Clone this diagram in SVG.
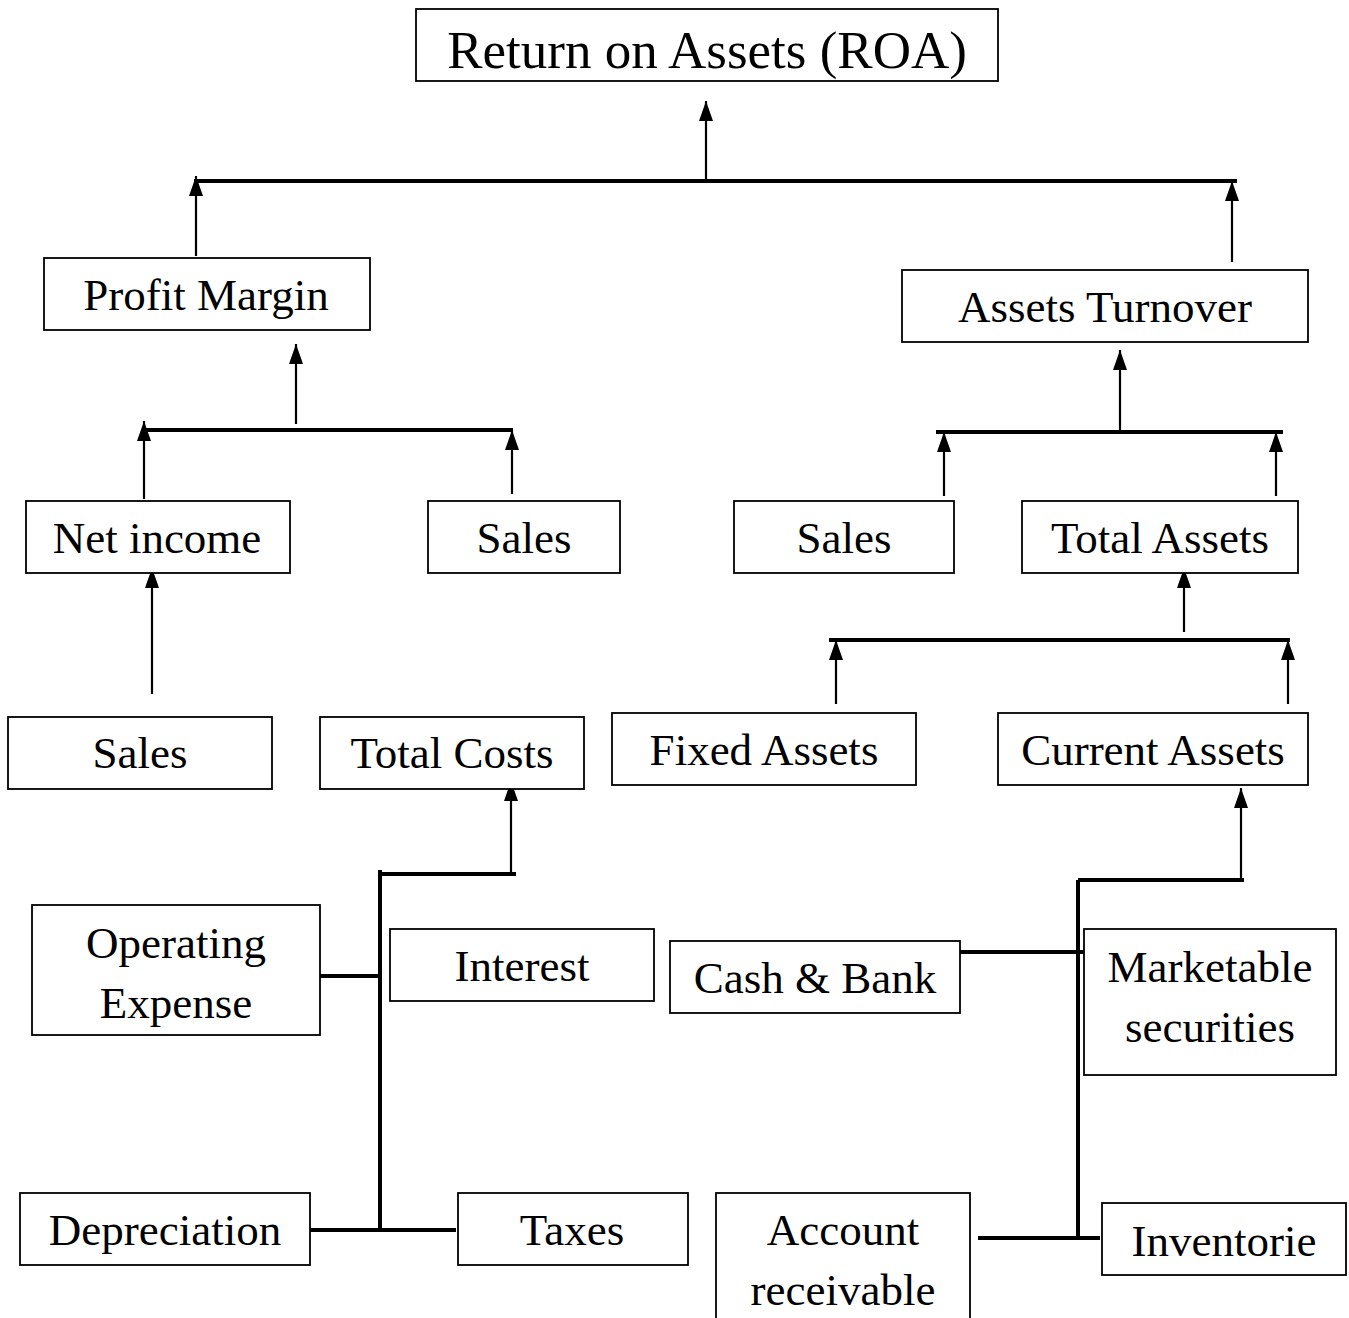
<svg xmlns="http://www.w3.org/2000/svg" width="1349" height="1318" viewBox="0 0 1349 1318">
<style>
.box{fill:#fff;stroke:#000;stroke-width:1.8}
.t{font-family:"Liberation Serif","Times New Roman",serif;font-size:45px;fill:#000;text-anchor:middle}
.big{font-size:53px}
.c{stroke:#000;stroke-width:2.2;fill:none}
.b{stroke:#000;stroke-width:4;fill:none}
</style>
<defs>
<marker id="ah" markerUnits="userSpaceOnUse" viewBox="0 0 20 14" markerWidth="20" markerHeight="14" refX="20" refY="7" orient="auto" overflow="visible">
<path d="M0,0 L20,7 L0,14 z" fill="#000"/>
</marker>
</defs>
<rect width="1349" height="1318" fill="#fff"/>
<g id="connectors">
<line class="c" x1="706" y1="181" x2="706" y2="101" marker-end="url(#ah)"/>
<line class="b" x1="194" y1="181" x2="1237" y2="181"/>
<line class="c" x1="196" y1="256" x2="196" y2="176" marker-end="url(#ah)"/>
<line class="c" x1="1232" y1="262" x2="1232" y2="181" marker-end="url(#ah)"/>

<line class="c" x1="296" y1="424" x2="296" y2="344" marker-end="url(#ah)"/>
<line class="b" x1="142" y1="430" x2="513" y2="430"/>
<line class="c" x1="144" y1="499" x2="144" y2="421" marker-end="url(#ah)"/>
<line class="c" x1="512" y1="494" x2="512" y2="430" marker-end="url(#ah)"/>

<line class="c" x1="1120" y1="432" x2="1120" y2="350" marker-end="url(#ah)"/>
<line class="b" x1="936" y1="432" x2="1283" y2="432"/>
<line class="c" x1="944" y1="496" x2="944" y2="432" marker-end="url(#ah)"/>
<line class="c" x1="1276" y1="496" x2="1276" y2="432" marker-end="url(#ah)"/>

<line class="c" x1="1184" y1="632" x2="1184" y2="568" marker-end="url(#ah)"/>
<line class="b" x1="829" y1="640" x2="1290" y2="640"/>
<line class="c" x1="836" y1="704" x2="836" y2="640" marker-end="url(#ah)"/>
<line class="c" x1="1288" y1="704" x2="1288" y2="640" marker-end="url(#ah)"/>

<line class="c" x1="152" y1="694" x2="152" y2="568" marker-end="url(#ah)"/>

<line class="c" x1="511" y1="874" x2="511" y2="781" marker-end="url(#ah)"/>
<line class="b" x1="380" y1="874" x2="516" y2="874"/>
<line class="b" x1="380" y1="870" x2="380" y2="1230"/>
<line class="b" x1="320" y1="976" x2="380" y2="976"/>
<line class="b" x1="310" y1="1230" x2="456" y2="1230"/>

<line class="c" x1="1241" y1="880" x2="1241" y2="788" marker-end="url(#ah)"/>
<line class="b" x1="1078" y1="880" x2="1244" y2="880"/>
<line class="b" x1="1078" y1="880" x2="1078" y2="1238"/>
<line class="b" x1="960" y1="952" x2="1086" y2="952"/>
<line class="b" x1="978" y1="1238" x2="1100" y2="1238"/>
</g>
<g id="roa"><rect class="box" x="416" y="9" width="582" height="72"/><text class="t big" x="707" y="68">Return on Assets (ROA)</text></g>
<g id="profit-margin"><rect class="box" x="44" y="258" width="326" height="72"/><text class="t" x="206" y="310">Profit Margin</text></g>
<g id="assets-turnover"><rect class="box" x="902" y="270" width="406" height="72"/><text class="t" x="1105" y="322">Assets Turnover</text></g>
<g id="net-income"><rect class="box" x="26" y="501" width="264" height="72"/><text class="t" x="157" y="553">Net income</text></g>
<g id="sales-pm"><rect class="box" x="428" y="501" width="192" height="72"/><text class="t" x="524" y="553">Sales</text></g>
<g id="sales-at"><rect class="box" x="734" y="501" width="220" height="72"/><text class="t" x="844" y="553">Sales</text></g>
<g id="total-assets"><rect class="box" x="1022" y="501" width="276" height="72"/><text class="t" x="1160" y="553">Total Assets</text></g>
<g id="sales-ni"><rect class="box" x="8" y="717" width="264" height="72"/><text class="t" x="140" y="768">Sales</text></g>
<g id="total-costs"><rect class="box" x="320" y="717" width="264" height="72"/><text class="t" x="452" y="768">Total Costs</text></g>
<g id="fixed-assets"><rect class="box" x="612" y="713" width="304" height="72"/><text class="t" x="764" y="765">Fixed Assets</text></g>
<g id="current-assets"><rect class="box" x="998" y="713" width="310" height="72"/><text class="t" x="1153" y="765">Current Assets</text></g>
<g id="operating-expense"><rect class="box" x="32" y="905" width="288" height="130"/><text class="t" x="176" y="958">Operating</text><text class="t" x="176" y="1018">Expense</text></g>
<g id="interest"><rect class="box" x="390" y="929" width="264" height="72"/><text class="t" x="522" y="981">Interest</text></g>
<g id="cash-bank"><rect class="box" x="670" y="941" width="290" height="72"/><text class="t" x="815" y="993">Cash &amp; Bank</text></g>
<g id="marketable-securities"><rect class="box" x="1084" y="929" width="252" height="146"/><text class="t" x="1210" y="982">Marketable</text><text class="t" x="1210" y="1042">securities</text></g>
<g id="depreciation"><rect class="box" x="20" y="1193" width="290" height="72"/><text class="t" x="165" y="1245">Depreciation</text></g>
<g id="taxes"><rect class="box" x="458" y="1193" width="230" height="72"/><text class="t" x="572" y="1245">Taxes</text></g>
<g id="account-receivable"><rect class="box" x="716" y="1193" width="254" height="140"/><text class="t" x="843" y="1245">Account</text><text class="t" x="843" y="1305">receivable</text></g>
<g id="inventorie"><rect class="box" x="1102" y="1203" width="244" height="72"/><text class="t" x="1224" y="1256">Inventorie</text></g>
</svg>
